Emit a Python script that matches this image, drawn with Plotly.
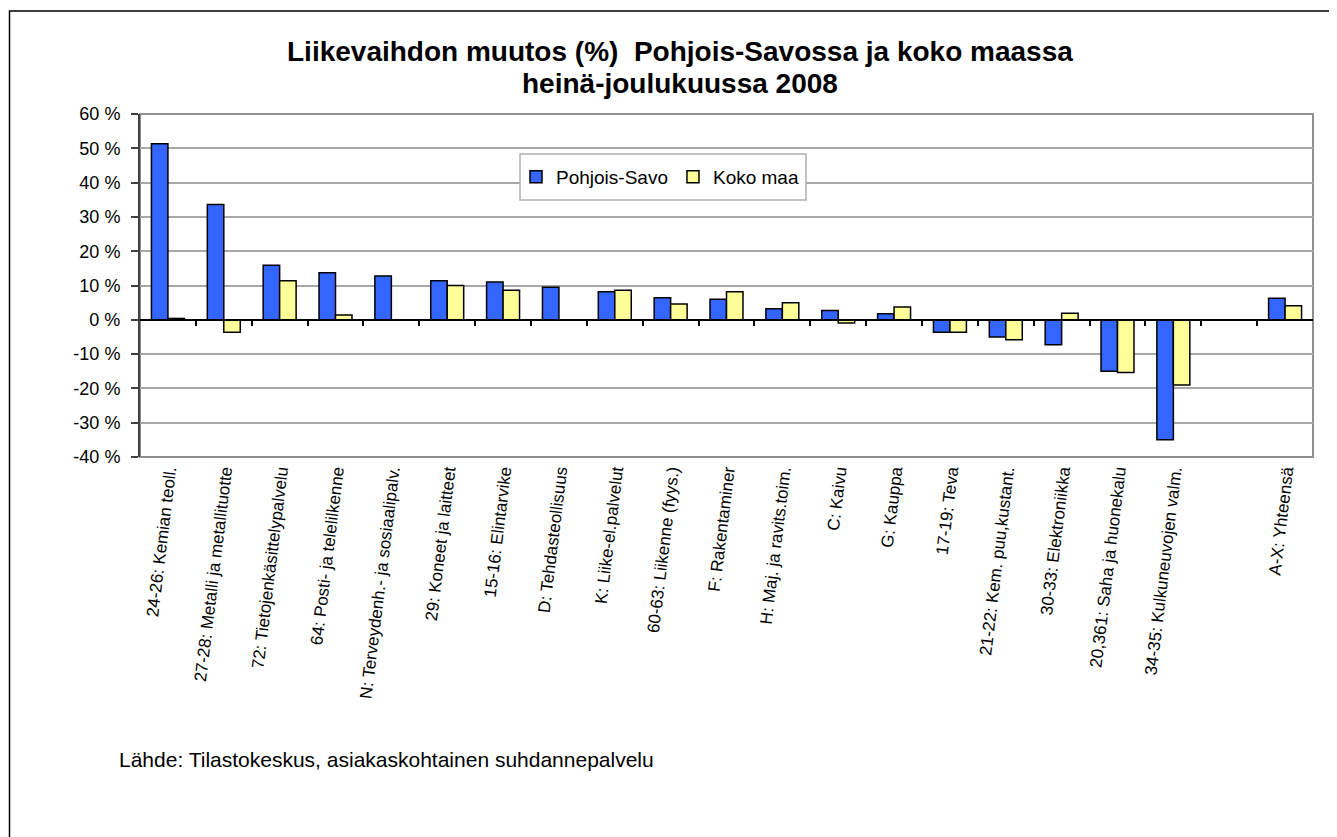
import plotly.graph_objects as go

categories = [
    "24-26: Kemian teoll.", "27-28: Metalli ja metallituotte", "72: Tietojenkäsittelypalvelu",
    "64: Posti- ja telelilkenne", "N: Terveydenh.- ja sosiaalipalv.", "29: Koneet ja laitteet",
    "15-16: Elintarvike", "D: Tehdasteollisuus", "K: Liike-el.palvelut", "60-63: Liikenne (fyys.)",
    "F: Rakentaminer", "H: Maj. ja ravits.toim.", "C: Kaivu", "G: Kauppa", "17-19: Teva",
    "21-22: Kem. puu,kustant.", "30-33: Elektroniikka", "20,361: Saha ja huonekalu",
    "34-35: Kulkuneuvojen valm.", " ", "A-X: Yhteensä",
]
pohjois_savo = [51.3, 33.6, 15.9, 13.7, 12.8, 11.4, 11.0, 9.5, 8.2, 6.4, 6.0, 3.2, 2.7, 1.8,
                -3.6, -5.0, -7.3, -15.0, -35.0, None, 6.3]
koko_maa = [0.4, -3.6, 11.4, 1.4, None, 10.0, 8.6, None, 8.6, 4.6, 8.2, 5.0, -0.9, 3.7,
            -3.6, -5.8, 1.9, -15.4, -19.0, None, 4.1]
y_ticks = [-40, -30, -20, -10, 0, 10, 20, 30, 40, 50, 60]
y_tick_labels = [f"{v} %" for v in y_ticks]
title_lines = ["Liikevaihdon muutos (%)  Pohjois-Savossa ja koko maassa", "heinä-joulukuussa 2008"]
source_text = "Lähde: Tilastokeskus, asiakaskohtainen suhdannepalvelu"

FONT = "Arial, 'Liberation Sans', sans-serif"

OFF = 8  # page body margin
W, H = 1337 - OFF, 837 - OFF
L, R, T, B = 140 - OFF, 1313 - OFF, 114 - OFF, 457 - OFF


def px_x(p):
    return (p - OFF - L) / (R - L)


def px_y(p):
    return (B - (p - OFF)) / (B - T)


fig = go.Figure()
fig.add_trace(go.Bar(x=categories, y=pohjois_savo, name="Pohjois-Savo",
                     marker=dict(color="#3366FF", line=dict(color="#000000", width=1.5))))
fig.add_trace(go.Bar(x=categories, y=koko_maa, name="Koko maa",
                     marker=dict(color="#FFFF99", line=dict(color="#000000", width=1.5))))

n = len(categories)
fig.update_layout(
    width=W, height=H,
    margin=dict(l=L, r=W - R, t=T, b=H - B),
    paper_bgcolor="white", plot_bgcolor="white",
    barmode="group", bargap=0.41, bargroupgap=0,
    font=dict(family=FONT, color="#000000"),
    legend=dict(orientation="h", x=px_x(516), y=px_y(177), xanchor="left", yanchor="middle",
                borderwidth=0, bgcolor="rgba(0,0,0,0)",
                font=dict(size=19, family=FONT), traceorder="normal"),
    showlegend=True,
    xaxis=dict(type="category", categoryorder="array", categoryarray=categories,
               range=[-0.5, n - 0.5], tickangle=-83, tickfont=dict(size=17, family=FONT),
               showgrid=False, showline=False, ticks="", zeroline=False),
    xaxis2=dict(overlaying="x", anchor="free", position=px_y(320), range=[-0.5, n - 0.5],
                tickmode="array", tickvals=[i + 0.5 for i in range(n - 1)], ticks="outside",
                ticklen=5, tickwidth=1.5, tickcolor="#000000", showticklabels=False,
                showline=True, linecolor="#000000", linewidth=1.5, showgrid=False, zeroline=False),
    yaxis=dict(range=[-40, 60], tickmode="array", tickvals=y_ticks, ticktext=y_tick_labels,
               tickfont=dict(size=18, family=FONT), ticks="outside", ticklen=7, tickwidth=1.5,
               ticklabelstandoff=7,
               tickcolor="#404040", showgrid=True, gridcolor="#a8a8a8", gridwidth=1.5,
               showline=True, linecolor="#404040", linewidth=2, zeroline=False),
)

# plot frame (right/bottom gray edges)
fig.add_shape(type="rect", xref="paper", yref="paper", x0=0, x1=1, y0=0, y1=1,
              line=dict(color="#909090", width=2), fillcolor="rgba(0,0,0,0)", layer="below")
# legend box
fig.add_shape(type="rect", xref="paper", yref="paper", x0=px_x(520), x1=px_x(806),
              y0=px_y(200), y1=px_y(154), line=dict(color="#b0b0b0", width=1.5),
              fillcolor="white", layer="above")
# outer chart border
fig.add_shape(type="rect", xref="paper", yref="paper", x0=px_x(9.5), x1=px_x(1400),
              y0=px_y(11), y1=px_y(900), line=dict(color="#000000", width=1.5))

# title (two lines)
for txt, yc in zip(title_lines, [52, 83]):
    fig.add_annotation(text=f"<b>{txt}</b>", xref="paper", yref="paper",
                       x=px_x(680), y=px_y(yc), xanchor="center", yanchor="middle",
                       showarrow=False, font=dict(size=28, family=FONT, color="#000000"))

fig.add_annotation(text=source_text,
                   xref="paper", yref="paper", x=px_x(117), y=px_y(759),
                   xanchor="left", yanchor="middle", showarrow=False,
                   font=dict(size=21, family=FONT, color="#000000"))

# dummy trace for xaxis2 so it renders
fig.add_trace(go.Scatter(x=[0], y=[None], xaxis="x2", showlegend=False, hoverinfo="skip"))

fig.write_html("out.html")
